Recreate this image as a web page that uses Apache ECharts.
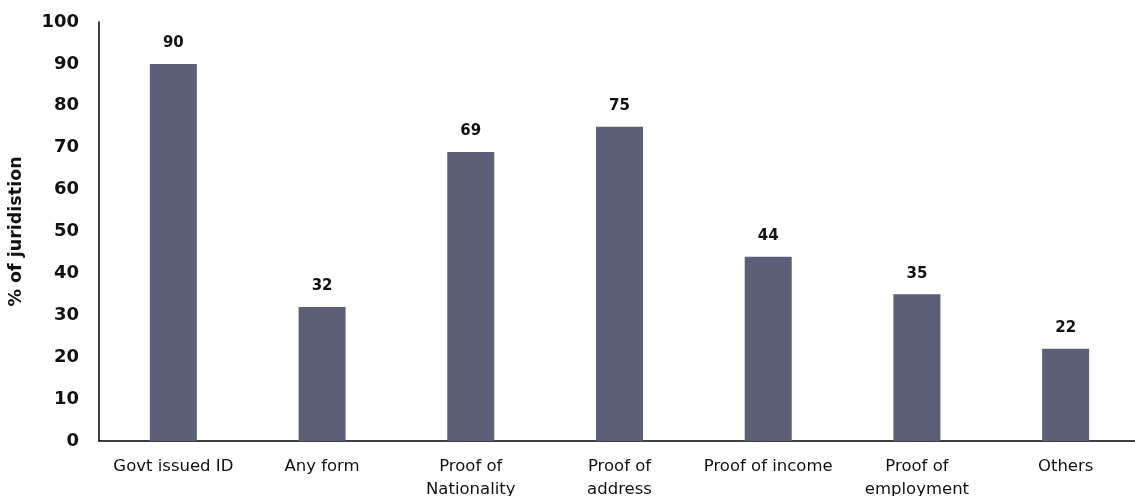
<!DOCTYPE html>
<html>
<head>
<meta charset="utf-8">
<script src="https://cdn.jsdelivr.net/npm/echarts@6/dist/echarts.min.js"></script>
<style>html,body{margin:0;padding:0;background:#fff}#c{width:1135px;height:496px}</style>
</head>
<body>
<div id="c"></div>
<script>
const categories = ['Govt issued ID', 'Any form', 'Proof of\nNationality', 'Proof of\naddress', 'Proof of income', 'Proof of\nemployment', 'Others'];
const values = [90, 32, 69, 75, 44, 35, 22];
const yTicks = [0, 10, 20, 30, 40, 50, 60, 70, 80, 90, 100];

const chart = echarts.init(document.getElementById('c'));
const font = 'DejaVu Sans';
chart.setOption({
  animation: false,
  grid: {left: 99, top: 22, width: 1041, bottom: 55, containLabel: false, outerBoundsMode: 'none'},
  xAxis: {
    type: 'category',
    data: categories,
    axisLine: {lineStyle: {color: '#000', width: 1.5}},
    axisTick: {show: false},
    axisLabel: {color: '#111', fontFamily: font, fontSize: 16.5, fontWeight: 500, margin: 14, lineHeight: 23, interval: 0}
  },
  yAxis: {
    type: 'value',
    min: 0, max: 100, interval: 10,
    name: '% of juridistion',
    nameLocation: 'middle',
    nameGap: 74,
    nameTextStyle: {color: '#111', fontFamily: font, fontSize: 17.5, fontWeight: 600},
    axisLine: {show: true, lineStyle: {color: '#000', width: 1.5}},
    axisTick: {show: false},
    splitLine: {show: false},
    axisLabel: {color: '#111', fontFamily: font, fontSize: 18, fontWeight: 600, margin: 20,
      formatter: v => yTicks.includes(v) ? String(v) : ''}
  },
  series: [{
    type: 'bar',
    data: values,
    barWidth: 47,
    itemStyle: {color: '#5c5f78'},
    label: {show: true, position: 'top', distance: 13, color: '#111', fontFamily: font, fontSize: 15, fontWeight: 'bold'}
  }]
});
</script>
</body>
</html>
